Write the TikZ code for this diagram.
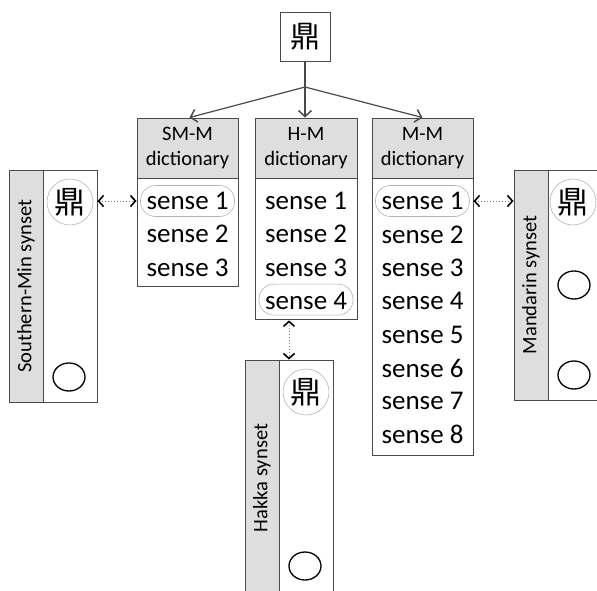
\documentclass[tikz,border=0pt]{standalone}
\usepackage{fontspec}
\setmainfont{Carlito}
\newfontfamily\cjk{Noto Sans CJK TC}
\usetikzlibrary{arrows.meta,shapes.geometric,calc}
\definecolor{frame}{HTML}{4A4A4A}
\definecolor{headfill}{HTML}{DEDEDE}
\definecolor{ringgray}{HTML}{B4B4B4}
\tikzset{
  box/.style={draw=frame,line width=0.9pt,rectangle,inner sep=0pt},
  dicthead/.style={box,fill=headfill,minimum width=101pt,minimum height=60pt,
    align=center,font=\fontsize{20.5}{25}\selectfont},
  dictbody/.style={box,fill=white,minimum width=101pt,anchor=north},
  sense/.style={font=\fontsize{27}{30}\selectfont,inner sep=0pt},
  pick/.style={draw=ringgray,line width=0.6pt,rounded corners=15pt,
    minimum width=94pt,minimum height=31pt,inner sep=0pt},
  strip/.style={box,fill=headfill,minimum width=34pt},
  synlabel/.style={rotate=90,font=\fontsize{20.5}{24}\selectfont,inner sep=0pt},
  hanring/.style={circle,draw=ringgray,line width=0.6pt,minimum size=46pt,
    inner sep=0pt,font=\cjk\fontsize{31}{31}\selectfont},
  slot/.style={ellipse,draw=black,line width=1.3pt,minimum width=32pt,
    minimum height=28pt,inner sep=0pt},
  tree/.style={draw=frame,line width=1.2pt,
    -{Straight Barb[length=6pt,width=13pt,line width=1.5pt]}},
  link/.style={draw=gray,dotted,line width=1pt,
    {Straight Barb[length=5pt,width=11pt,line width=1.6pt,color=black]}-{Straight Barb[length=5pt,width=11pt,line width=1.6pt,color=black]}}
}
\begin{document}
\begin{tikzpicture}[x=1pt,y=-1pt]
\useasboundingbox (0,0) rectangle (597,590);

% root character
\node[box,minimum width=50pt,minimum height=49pt,font=\cjk\fontsize{30}{30}\selectfont]
  (root) at (305,36.5) {鼎};

% dictionaries: header and body
\node[dicthead] (smh) at (187.5,148) {SM-M\\dictionary};
\node[dicthead,minimum width=102pt] (hmh) at (306,148) {H-M\\dictionary};
\node[dicthead] (mmh) at (422.5,148) {M-M\\dictionary};
\node[dictbody,minimum height=108pt] (smb) at (smh.south) {};
\node[dictbody,minimum width=102pt,minimum height=141pt] (hmb) at (hmh.south) {};
\node[dictbody,minimum height=277pt] (mmb) at (mmh.south) {};

% senses
\foreach \i in {1,2,3} {
  \node[sense] (sm\i) at (187.5,{201+33.2*(\i-1)}) {sense \i};
}
\foreach \i in {1,...,4} {
  \node[sense] (hm\i) at (306,{201+33.2*(\i-1)}) {sense \i};
}
\foreach \i in {1,...,8} {
  \node[sense] (mm\i) at (422.5,{201+33.4*(\i-1)}) {sense \i};
}
\node[pick] (smp) at (sm1) {};
\node[pick] (hmp) at ($(hm4)+(0,-1)$) {};
\node[pick] (mmp) at (mm1) {};

% tree from the root to the three dictionaries
\coordinate (split) at (305,87);
\draw[draw=frame,line width=1.2pt] (root.south) -- (split);
\draw[tree] (split) -- ($(smh.north)+(2,0)$);
\draw[tree] (split) -- ($(hmh.north)+(-1,0)$);
\draw[tree] (split) -- (mmh.north);

% Southern-Min synset
\node[box,fill=white,minimum width=88pt,minimum height=232pt] (smsyn) at (53,286) {};
\node[strip,minimum height=232pt,anchor=west] (smstrip) at (smsyn.west) {};
\node[synlabel] at (smstrip) {Southern-Min synset};
\node[hanring] (smhan) at (70,202) {鼎};
\node[slot] (smslot) at (69,377) {};

% Mandarin synset
\node[box,fill=white,minimum width=90pt,minimum height=230pt] (mdsyn) at (559,285) {};
\node[strip,minimum height=230pt,anchor=west] (mdstrip) at (mdsyn.west) {};
\node[synlabel] at (mdstrip) {Mandarin synset};
\node[hanring] (mdhan) at (573,202) {鼎};
\node[slot] (mdslot1) at (574,285) {};
\node[slot] (mdslot2) at (574,375) {};

% Hakka synset
\node[box,fill=white,minimum width=88pt,minimum height=236pt] (hksyn) at (289,478) {};
\node[strip,minimum height=236pt,anchor=west] (hkstrip) at (hksyn.west) {};
\node[synlabel] at (hkstrip) {Hakka synset};
\node[hanring] (hkhan) at (306,392) {鼎};
\node[slot] (hkslot) at (305,566) {};

% links between synsets and senses
\draw[link] (smsyn.east |- smp) -- (smb.west |- smp);
\draw[link] (mmb.east |- mmp) -- (mdsyn.west |- mmp);
\draw[link] (hmb.south -| hksyn) -- (hksyn.north);
\end{tikzpicture}
\end{document}
